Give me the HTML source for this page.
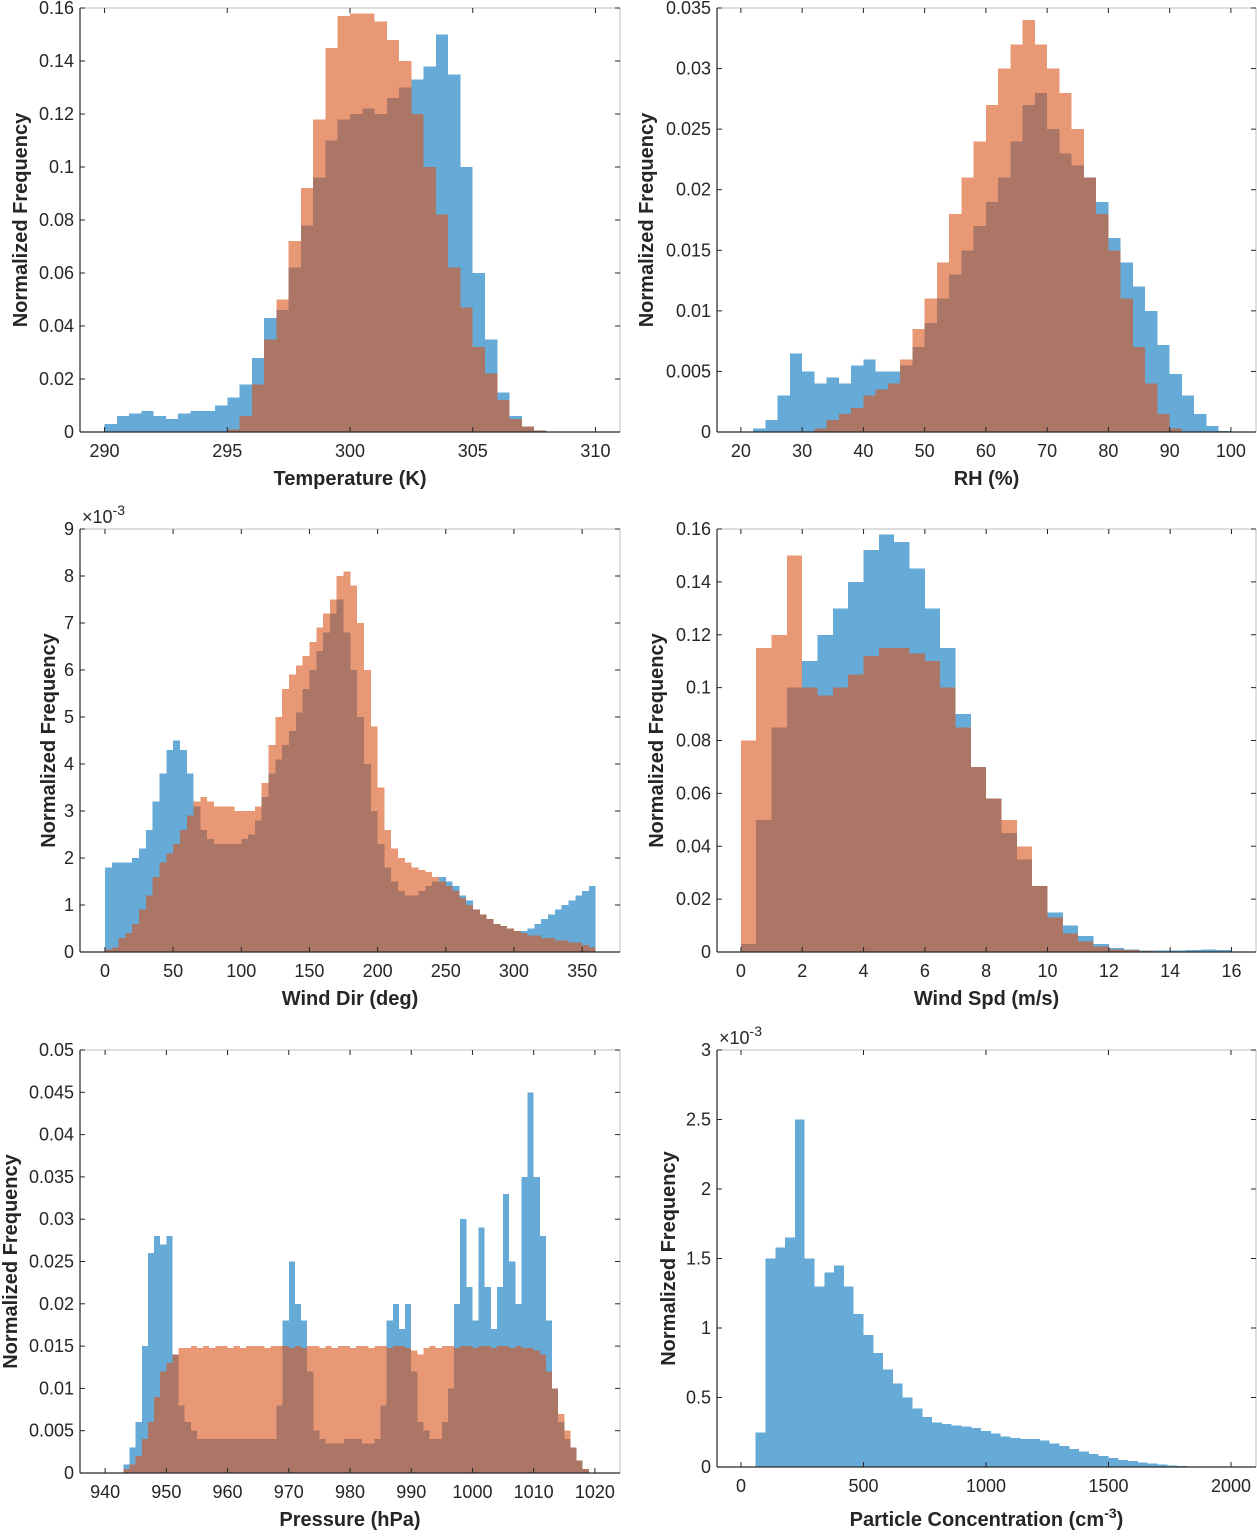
<!DOCTYPE html>
<html><head><meta charset="utf-8"><style>
body{margin:0;background:#fff}
svg text{font-family:"Liberation Sans",Arial,sans-serif;fill:#262626}
</style></head><body>
<svg id="fig" width="1257" height="1531" xmlns="http://www.w3.org/2000/svg"></svg>
<script>
// Panel 1: Temperature
const tempEdges0 = 290, tempBin = 0.5;
const tempBlue = [0.003,0.006,0.007,0.008,0.006,0.005,0.007,0.008,0.008,0.010,0.013,0.018,0.028,0.043,0.046,0.062,0.078,0.096,0.11,0.118,0.12,0.122,0.12,0.126,0.13,0.133,0.138,0.15,0.135,0.10,0.06,0.035,0.015,0.006,0.002,0.0005,0,0];
const tempOrange = [0,0,0,0,0,0,0,0,0,0,0.001,0.006,0.018,0.035,0.05,0.072,0.092,0.118,0.145,0.157,0.158,0.158,0.155,0.148,0.14,0.12,0.10,0.082,0.062,0.047,0.032,0.022,0.012,0.005,0.002,0.0005,0,0];
// Panel 2: RH
const rhEdges0 = 22, rhBin = 2;
const rhBlue = [0.0003,0.001,0.003,0.0065,0.005,0.004,0.0045,0.004,0.0055,0.006,0.005,0.005,0.0055,0.007,0.009,0.011,0.013,0.015,0.017,0.019,0.021,0.024,0.027,0.028,0.025,0.023,0.022,0.021,0.019,0.016,0.014,0.012,0.010,0.0072,0.0048,0.003,0.0015,0.0005,0.0001];
const rhOrange = [0,0,0,0,0,0.0003,0.001,0.0015,0.002,0.003,0.0035,0.004,0.006,0.0085,0.011,0.014,0.018,0.021,0.024,0.027,0.030,0.032,0.034,0.032,0.030,0.028,0.025,0.021,0.018,0.015,0.011,0.007,0.004,0.0015,0.0003,0,0,0,0];
// Panel 3: Wind dir (x1e-3)
const wdEdges0 = 0, wdBin = 5;
const wdBlue = [1.8,1.9,1.9,1.9,2.0,2.2,2.6,3.2,3.8,4.3,4.5,4.3,3.8,3.1,2.6,2.4,2.3,2.3,2.3,2.3,2.4,2.5,2.8,3.3,3.8,4.1,4.4,4.7,5.1,5.6,6.0,6.4,6.8,7.2,7.5,6.8,6.0,5.0,4.0,3.0,2.3,1.8,1.5,1.3,1.2,1.2,1.3,1.4,1.5,1.6,1.5,1.4,1.2,1.1,0.9,0.8,0.7,0.6,0.55,0.5,0.45,0.45,0.5,0.6,0.7,0.8,0.9,1.0,1.1,1.2,1.3,1.4];
const wdOrange = [0.05,0.1,0.3,0.4,0.6,0.9,1.2,1.6,1.9,2.1,2.3,2.6,2.9,3.2,3.3,3.2,3.1,3.1,3.1,3.0,3.0,3.0,3.1,3.6,4.4,5.0,5.6,5.9,6.1,6.3,6.6,6.9,7.2,7.5,8.0,8.1,7.8,7.0,6.0,4.8,3.5,2.6,2.2,2.0,1.9,1.8,1.75,1.7,1.6,1.5,1.4,1.3,1.15,1.0,0.9,0.8,0.7,0.6,0.55,0.5,0.45,0.4,0.35,0.35,0.3,0.3,0.25,0.25,0.2,0.2,0.15,0.1];
// Panel 4: Wind speed
const wsEdges0 = 0, wsBin = 0.5;
const wsBlue = [0.003,0.05,0.085,0.1,0.11,0.12,0.13,0.14,0.152,0.158,0.155,0.145,0.13,0.115,0.09,0.07,0.058,0.045,0.035,0.025,0.015,0.01,0.006,0.003,0.0015,0.001,0.0005,0.0005,0.0005,0.0007,0.001,0.0008];
const wsOrange = [0.08,0.115,0.12,0.15,0.10,0.097,0.10,0.105,0.112,0.115,0.115,0.113,0.11,0.10,0.085,0.07,0.058,0.05,0.04,0.025,0.013,0.007,0.004,0.002,0.001,0.0008,0.0003,0.0002,0.0001,0,0,0];
// Panel 5: Pressure (943..1018)
const prEdges0 = 943, prBin = 1;
const prBlue = [0.001,0.003,0.006,0.015,0.026,0.028,0.027,0.028,0.014,0.008,0.006,0.005,0.004,0.004,0.004,0.004,0.004,0.004,0.004,0.004,0.004,0.004,0.004,0.004,0.004,0.008,0.018,0.025,0.02,0.018,0.012,0.005,0.004,0.0035,0.0035,0.0035,0.004,0.004,0.004,0.0035,0.0035,0.004,0.008,0.018,0.02,0.017,0.02,0.012,0.006,0.005,0.004,0.004,0.006,0.010,0.020,0.030,0.022,0.018,0.029,0.022,0.017,0.022,0.033,0.025,0.02,0.035,0.045,0.035,0.028,0.018,0.010,0.006,0.004,0.003,0.0015,0.0005];
const prOrange = [0.0005,0.001,0.002,0.004,0.006,0.009,0.012,0.013,0.014,0.0148,0.0148,0.015,0.0148,0.015,0.0148,0.015,0.015,0.0148,0.015,0.0148,0.015,0.015,0.015,0.0148,0.015,0.015,0.015,0.0148,0.015,0.0148,0.015,0.015,0.0148,0.015,0.0148,0.015,0.015,0.0148,0.015,0.015,0.0148,0.015,0.015,0.0148,0.015,0.015,0.0148,0.0145,0.014,0.0148,0.015,0.0148,0.015,0.015,0.0148,0.015,0.015,0.0148,0.015,0.015,0.0148,0.015,0.015,0.0148,0.015,0.0148,0.0148,0.0145,0.014,0.012,0.010,0.007,0.005,0.003,0.0015,0.0005];
// Panel 6: Particle concentration (x1e-3)
const pcEdges0 = 60, pcBin = 40;
const pcBlue = [0.25,1.5,1.58,1.65,2.5,1.5,1.3,1.4,1.45,1.3,1.1,0.95,0.82,0.7,0.6,0.5,0.42,0.36,0.32,0.31,0.3,0.29,0.28,0.26,0.24,0.22,0.21,0.2,0.2,0.19,0.17,0.15,0.13,0.11,0.095,0.08,0.065,0.052,0.042,0.033,0.025,0.018,0.012,0.008,0.005,0.003,0.002];

const panels = [
 {name:'temperature',x0:80,x1:620,y0:8,y1:432,xmin:289,xmax:311,ymin:0,ymax:0.16,
  xt:[290,295,300,305,310],yt:[0,0.02,0.04,0.06,0.08,0.1,0.12,0.14,0.16],ytl:['0','0.02','0.04','0.06','0.08','0.1','0.12','0.14','0.16'],
  xl:'Temperature (K)',yx:20,e0:tempEdges0,bw:tempBin,blue:tempBlue,orange:tempOrange},
 {name:'rh',x0:717,x1:1256,y0:8,y1:432,xmin:16.1,xmax:104.1,ymin:0,ymax:0.035,
  xt:[20,30,40,50,60,70,80,90,100],yt:[0,0.005,0.01,0.015,0.02,0.025,0.03,0.035],ytl:['0','0.005','0.01','0.015','0.02','0.025','0.03','0.035'],
  xl:'RH (%)',yx:646,e0:rhEdges0,bw:rhBin,blue:rhBlue,orange:rhOrange},
 {name:'wind-dir',x0:80,x1:620,y0:529,y1:952,xmin:-18.3,xmax:377.8,ymin:0,ymax:9,
  xt:[0,50,100,150,200,250,300,350],yt:[0,1,2,3,4,5,6,7,8,9],ytl:['0','1','2','3','4','5','6','7','8','9'],
  xl:'Wind Dir (deg)',yx:48,e0:wdEdges0,bw:wdBin,blue:wdBlue,orange:wdOrange,exp:true},
 {name:'wind-spd',x0:717,x1:1256,y0:529,y1:952,xmin:-0.78,xmax:16.8,ymin:0,ymax:0.16,
  xt:[0,2,4,6,8,10,12,14,16],yt:[0,0.02,0.04,0.06,0.08,0.1,0.12,0.14,0.16],ytl:['0','0.02','0.04','0.06','0.08','0.1','0.12','0.14','0.16'],
  xl:'Wind Spd (m/s)',yx:656,e0:wsEdges0,bw:wsBin,blue:wsBlue,orange:wsOrange},
 {name:'pressure',x0:80,x1:620,y0:1050,y1:1473,xmin:935.9,xmax:1024.1,ymin:0,ymax:0.05,
  xt:[940,950,960,970,980,990,1000,1010,1020],yt:[0,0.005,0.01,0.015,0.02,0.025,0.03,0.035,0.04,0.045,0.05],ytl:['0','0.005','0.01','0.015','0.02','0.025','0.03','0.035','0.04','0.045','0.05'],
  xl:'Pressure (hPa)',yx:10,e0:prEdges0,bw:prBin,blue:prBlue,orange:prOrange},
 {name:'particle',x0:717,x1:1256,y0:1050,y1:1467,xmin:-98,xmax:2102,ymin:0,ymax:3,
  xt:[0,500,1000,1500,2000],yt:[0,0.5,1,1.5,2,2.5,3],ytl:['0','0.5','1','1.5','2','2.5','3'],
  xl:'PC',yx:668,e0:pcEdges0,bw:pcBin,blue:pcBlue,orange:null,exp:true,titleY:1526}
];

const NS='http://www.w3.org/2000/svg';
const svg=document.getElementById('fig');
function mk(tag,attrs,parent){const e=document.createElementNS(NS,tag);for(const k in attrs)e.setAttribute(k,attrs[k]);(parent||svg).appendChild(e);return e;}

panels.forEach(p=>{
  const g=mk('g',{});
  
  
  const sx=v=>p.x0+(v-p.xmin)/(p.xmax-p.xmin)*(p.x1-p.x0);
  const sy=v=>p.y1-(v-p.ymin)/(p.ymax-p.ymin)*(p.y1-p.y0);
  function series(vals,color,nm){
    let d='';
    vals.forEach((v,i)=>{ if(v<=0)return;
      const a=sx(p.e0+i*p.bw), b=sx(p.e0+(i+1)*p.bw), t=sy(v);
      d+=`M${a.toFixed(2)},${p.y1}V${t.toFixed(2)}H${b.toFixed(2)}V${p.y1}Z`;});
    const path=mk('path',{d:d,fill:color,'shape-rendering':'crispEdges'},g);
    
    
  }
  series(p.blue,'rgba(0,114,189,0.6)','blue-series-bars');
  if(p.orange) series(p.orange,'rgba(217,83,25,0.6)','orange-series-bars');
  mk('line',{x1:p.x0,y1:p.y0,x2:p.x1,y2:p.y0,stroke:'#bdbdbd','stroke-width':1},g);
  mk('line',{x1:p.x1,y1:p.y0,x2:p.x1,y2:p.y1,stroke:'#bdbdbd','stroke-width':1},g);
  const xa=mk('line',{x1:p.x0,y1:p.y1,x2:p.x1,y2:p.y1,stroke:'#262626','stroke-width':1.2},g);
  
  
  const ya=mk('line',{x1:p.x0,y1:p.y0,x2:p.x0,y2:p.y1,stroke:'#262626','stroke-width':1.2},g);
  
  
  p.xt.forEach(v=>{const x=sx(v);
    mk('line',{x1:x,y1:p.y1,x2:x,y2:p.y1-5,stroke:'#262626'},g);
    mk('line',{x1:x,y1:p.y0,x2:x,y2:p.y0+5,stroke:'#262626'},g);
    const t=mk('text',{x:x,y:p.y1+25,'text-anchor':'middle','font-size':18},g);
    t.textContent=v;
    
    });
  p.yt.forEach((v,i)=>{const y=sy(v);
    mk('line',{x1:p.x0,y1:y,x2:p.x0+5,y2:y,stroke:'#262626'},g);
    mk('line',{x1:p.x1,y1:y,x2:p.x1-5,y2:y,stroke:'#262626'},g);
    const t=mk('text',{x:p.x0-6,y:y+6,'text-anchor':'end','font-size':18},g);
    t.textContent=p.ytl[i];
    
    });
  const xl=mk('text',{x:(p.x0+p.x1)/2,y:p.titleY||(p.y1+53),'text-anchor':'middle','font-size':20,'font-weight':'bold'},g);
  if(p.xl==='PC'){xl.innerHTML='Particle Concentration (cm<tspan dy="-8" font-size="14">-3</tspan><tspan dy="8">)</tspan>';}
  else xl.textContent=p.xl;
  
  
  const cy=(p.y0+p.y1)/2;
  const yl=mk('text',{x:p.yx+7,y:cy,'text-anchor':'middle','font-size':20,'font-weight':'bold',transform:`rotate(-90 ${p.yx+7} ${cy})`},g);
  yl.textContent='Normalized Frequency';
  
  
  if(p.exp){
    const e=mk('text',{x:p.x0+2,y:p.y0-6,'font-size':18},g);
    e.innerHTML='×10<tspan dy="-8" font-size="14">-3</tspan>';
    
    
  }
});
</script>
</body></html>
